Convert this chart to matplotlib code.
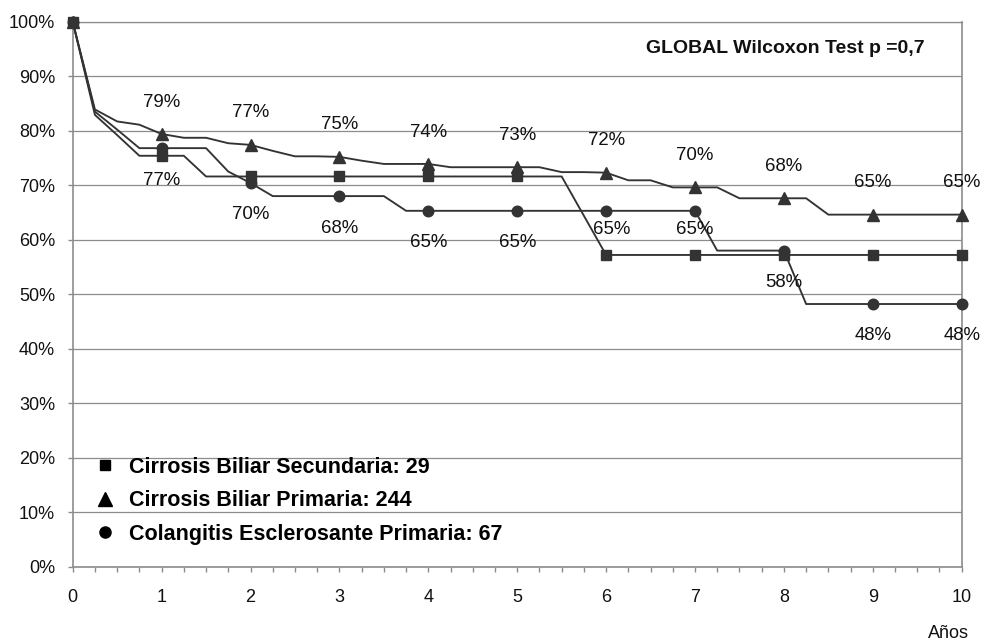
import numpy as np
import matplotlib
matplotlib.use("Agg")
import matplotlib.pyplot as plt
from matplotlib.lines import Line2D

plt.rcParams["font.family"] = ["Liberation Sans", "DejaVu Sans"]

# Survival (%) sampled every quarter year, 0..10 years
years = [i * 0.25 for i in range(41)]

cbs = [100, 82.9, 79.2, 75.4, 75.4, 75.4, 71.6, 71.6, 71.6, 71.6,
       71.6, 71.6, 71.6, 71.6, 71.6, 71.6, 71.6, 71.6, 71.6, 71.6,
       71.6, 71.6, 71.6, 64.4, 57.2, 57.2, 57.2, 57.2, 57.2, 57.2,
       57.2, 57.2, 57.2, 57.2, 57.2, 57.2, 57.2, 57.2, 57.2, 57.2,
       57.2]

cbp = [100, 83.9, 81.7, 81.1, 79.4, 78.7, 78.7, 77.7, 77.4, 76.3,
       75.3, 75.3, 75.2, 74.5, 73.9, 73.9, 73.9, 73.3, 73.3, 73.3,
       73.3, 73.3, 72.4, 72.4, 72.3, 70.9, 70.9, 69.6, 69.6, 69.6,
       67.6, 67.6, 67.6, 67.6, 64.6, 64.6, 64.6, 64.6, 64.6, 64.6,
       64.6]

cep = [100, 83.5, 80.2, 76.8, 76.8, 76.8, 76.8, 72.5, 70.4, 68.0,
       68.0, 68.0, 68.0, 68.0, 68.0, 65.3, 65.3, 65.3, 65.3, 65.3,
       65.3, 65.3, 65.3, 65.3, 65.3, 65.3, 65.3, 65.3, 65.3, 58.0,
       58.0, 58.0, 58.0, 48.2, 48.2, 48.2, 48.2, 48.2, 48.2, 48.2,
       48.2]

series_names = ["Cirrosis Biliar Secundaria: 29",
                "Cirrosis Biliar Primaria: 244",
                "Colangitis Esclerosante Primaria: 67"]
title_text = "GLOBAL Wilcoxon Test p =0,7"
x_label = "Años"

dark = "#333333"
grid_c = "#8c8c8c"

fig = plt.figure(figsize=(9.83, 6.42), dpi=100)
ax = fig.add_axes([72.7 / 983, 1 - 566.7 / 642, (961.7 - 72.7) / 983, (566.7 - 21.7) / 642])

yrs = np.array(years)
mark_idx = [i for i, t in enumerate(years) if float(t).is_integer()]

for vals, mk, ms in [(cbs, "s", 6.5), (cbp, "^", 9.2), (cep, "o", 7.6)]:
    ax.plot(yrs, vals, color=dark, lw=1.35, marker=mk, markersize=ms,
            markevery=mark_idx, markerfacecolor=dark, markeredgecolor=dark,
            zorder=3, clip_on=False)

# value labels: above the triangles, below the circles
for i in mark_idx:
    if years[i] == 0:
        continue
    ax.annotate(f"{round(cbp[i])}%", (years[i], cbp[i]), xytext=(0, 23),
                textcoords="offset points", ha="center", va="center",
                fontsize=13.4, color="#111111", zorder=4)
    dy, dx = -23, 0
    if years[i] in (6, 7):
        dy = -13.5
        if years[i] == 6:
            dx = 4
    ax.annotate(f"{round(cep[i])}%", (years[i], cep[i]), xytext=(dx, dy),
                textcoords="offset points", ha="center", va="center",
                fontsize=13.4, color="#111111", zorder=4)

ax.set_xlim(0, 10)
ax.set_ylim(0, 100)
ax.set_xticks(range(0, 11))
ax.set_xticks(yrs, minor=True)
ax.set_yticks(range(0, 101, 10))
ax.set_yticklabels([f"{v}%" for v in range(0, 101, 10)])
ax.tick_params(axis="both", which="both", direction="out", length=3.6,
               width=1.0, color=grid_c, labelsize=13, labelcolor="#111111")
ax.tick_params(axis="x", which="major", pad=12.5)
ax.tick_params(axis="y", which="major", pad=9)

ax.grid(axis="y", color=grid_c, lw=0.9)
ax.set_axisbelow(True)
for side in ["left", "bottom", "right", "top"]:
    ax.spines[side].set_color(grid_c)
    ax.spines[side].set_linewidth(1.2)
ax.spines["top"].set_linewidth(0.9)

ax.text(0.802, 0.951, title_text, transform=ax.transAxes, ha="center",
        va="center", fontsize=14, fontweight="bold", color="#111111")

handles = [Line2D([], [], ls="none", marker=m, markersize=s, color="black")
           for m, s in [("s", 7.5), ("^", 10), ("o", 8)]]
ax.legend(handles, series_names, loc="upper left",
          bbox_to_anchor=(83 / 983, 1 - 446 / 642),
          bbox_transform=fig.transFigure, frameon=False,
          prop={"weight": "bold", "size": 15.5}, handlelength=1.0,
          handletextpad=0.62, labelspacing=0.58, borderpad=0)

fig.text(948 / 983, 1 - 634 / 642, x_label, ha="center", va="center",
         fontsize=13, color="#111111")

fig.savefig("out.png", dpi=100, facecolor="white")
